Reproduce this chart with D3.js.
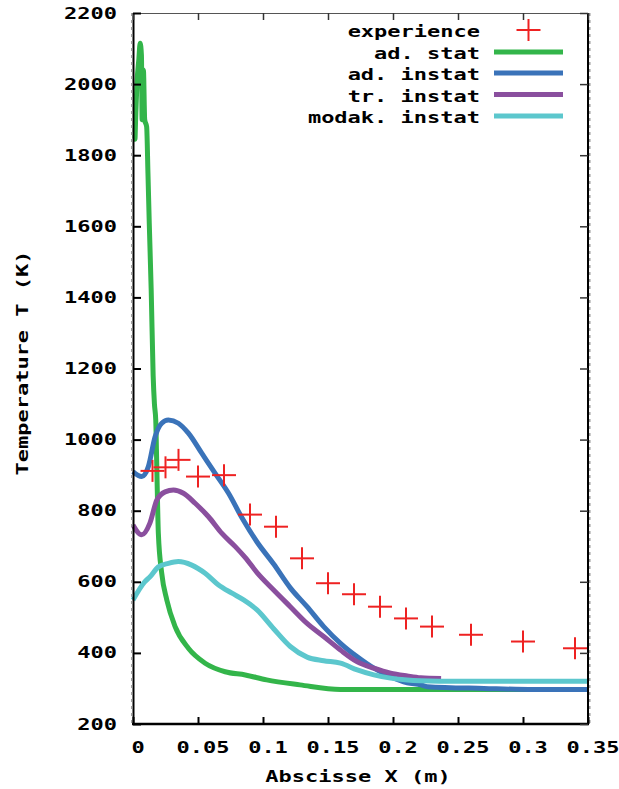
<!DOCTYPE html>
<html>
<head>
<meta charset="utf-8">
<script src="https://cdn.jsdelivr.net/npm/d3@7"></script>
<style>
  html, body { margin: 0; padding: 0; background: #fff; }
  svg { display: block; }
  text { font-family: "DejaVu Sans Mono", "Liberation Mono", monospace; font-weight: bold; fill: #000; }
</style>
</head>
<body>
<svg id="chart" width="619" height="789"></svg>
<script>
// Measured temperatures along the abscissa (experience)
const expX = [0.015, 0.025, 0.035, 0.05, 0.07, 0.09, 0.11, 0.13, 0.15, 0.17, 0.19, 0.21, 0.23, 0.26, 0.30, 0.34];
const expT = [912, 922, 943, 896, 900, 789, 755, 666, 596, 565, 530, 497, 474, 451, 432, 413];

// ad. stat
const adStatX = [0, 0.0015, 0.002, 0.003, 0.0045, 0.0055, 0.0065, 0.007, 0.008, 0.009, 0.0105, 0.0115, 0.0125, 0.014, 0.0155, 0.0165, 0.0175, 0.0183, 0.0195, 0.0221, 0.026, 0.0324, 0.0426, 0.0555, 0.0709, 0.0864, 0.1028, 0.1285, 0.1596, 0.35];
const adStatT = [1845, 1845, 1900, 2000, 2070, 2115, 2080, 1900, 2040, 1900, 1880, 1750, 1610, 1420, 1180, 1100, 1055, 924, 736, 624, 549, 474, 413, 371, 347, 338, 324, 310, 297, 297];

// ad. instat
const adInstX = [0, 0.0067, 0.0118, 0.017, 0.0221, 0.0272, 0.0349, 0.0426, 0.053, 0.0632, 0.0735, 0.0838, 0.0954, 0.1082, 0.121, 0.1339, 0.1467, 0.1596, 0.1725, 0.1853, 0.1981, 0.211, 0.2213, 0.2264, 0.27, 0.308, 0.35];
const adInstT = [910, 896, 924, 1008, 1046, 1055, 1046, 1018, 961, 905, 849, 780, 712, 650, 583, 530, 474, 427, 389, 357, 333, 316, 310, 305, 300, 297, 297];

// tr. instat
const trInstX = [0, 0.0067, 0.013, 0.0183, 0.0247, 0.0311, 0.0388, 0.0478, 0.0581, 0.0684, 0.0787, 0.0864, 0.0954, 0.1082, 0.121, 0.1339, 0.1467, 0.1596, 0.1725, 0.1853, 0.1981, 0.211, 0.2213, 0.237];
const trInstT = [760, 732, 765, 830, 853, 858, 849, 821, 783, 736, 699, 668, 626, 577, 530, 483, 446, 408, 375, 357, 343, 335, 330, 328];

// modak. instat
const modakX = [0, 0.009, 0.0131, 0.0195, 0.0272, 0.0349, 0.0452, 0.0555, 0.0658, 0.0761, 0.0851, 0.0954, 0.1082, 0.121, 0.1339, 0.1467, 0.1596, 0.1725, 0.1853, 0.1981, 0.211, 0.2213, 0.25, 0.35];
const modakT = [549, 600, 614, 642, 652, 657, 647, 624, 591, 568, 549, 521, 468, 418, 388, 378, 371, 352, 338, 329, 324, 322, 320, 320];

const xTicks = [0, 0.05, 0.1, 0.15, 0.2, 0.25, 0.3, 0.35];
const xTickLabels = ["0", "0.05", "0.1", "0.15", "0.2", "0.25", "0.3", "0.35"];
const yTicks = [200, 400, 600, 800, 1000, 1200, 1400, 1600, 1800, 2000, 2200];

const seriesNames = ["experience", "ad. stat", "ad. instat", "tr. instat", "modak. instat"];
const seriesColors = ["#ee2222", "#33b54a", "#3a73b9", "#8a4f9e", "#5cc7cd"];

const svg = d3.select("#chart");
const plotL = 133, plotR = 588, plotT = 13, plotB = 724;
const x = d3.scaleLinear().domain([0, 0.35]).range([plotL, plotR]);
const y = d3.scaleLinear().domain([200, 2200]).range([plotB, plotT]);

const FS = 15.5, SX = 1.42;   // wide, bold terminal-style lettering

function label(g, px, py, str, anchor, rot) {
  return g.append("text")
    .attr("transform", `translate(${px},${py})` + (rot ? ` rotate(${rot})` : "") + ` scale(${SX},1)`)
    .attr("text-anchor", anchor)
    .style("font-size", FS + "px")
    .text(str);
}

// curves
const curves = [
  [adStatX, adStatT, seriesColors[1]],
  [adInstX, adInstT, seriesColors[2]],
  [trInstX, trInstT, seriesColors[3]],
  [modakX, modakT, seriesColors[4]]
];
const line = d3.line().x(d => x(d[0])).y(d => y(d[1])).curve(d3.curveMonotoneX);
curves.forEach(([xs, ts, c]) => {
  svg.append("path")
    .datum(xs.map((v, i) => [v, ts[i]]))
    .attr("d", line)
    .attr("fill", "none")
    .attr("stroke", c)
    .attr("stroke-width", 5)
    .attr("stroke-linejoin", "round");
});

// experimental crosses
function cross(g, cx, cy) {
  g.append("line").attr("x1", cx - 12).attr("x2", cx + 12).attr("y1", cy).attr("y2", cy)
    .attr("stroke", seriesColors[0]).attr("stroke-width", 2);
  g.append("line").attr("x1", cx).attr("x2", cx).attr("y1", cy - 11).attr("y2", cy + 11)
    .attr("stroke", seriesColors[0]).attr("stroke-width", 2);
}
const expG = svg.append("g");
expX.forEach((v, i) => cross(expG, x(v), y(expT[i])));

// frame
const frame = svg.append("g");
frame.append("line").attr("x1", plotL).attr("x2", plotR).attr("y1", plotT + 0.5).attr("y2", plotT + 0.5)
  .attr("stroke", "#555").attr("stroke-width", 1.2);
frame.append("line").attr("x1", plotL - 1).attr("x2", plotR + 1).attr("y1", plotB).attr("y2", plotB)
  .attr("stroke", "#000").attr("stroke-width", 2.4);
frame.append("line").attr("x1", plotL + 0.5).attr("x2", plotL + 0.5).attr("y1", plotT).attr("y2", plotB)
  .attr("stroke", "#000").attr("stroke-width", 2);
frame.append("line").attr("x1", plotR).attr("x2", plotR).attr("y1", plotT).attr("y2", plotB)
  .attr("stroke", "#000").attr("stroke-width", 2);
[plotL - 1.2, plotR + 1.8].forEach(px => {
  frame.append("line").attr("x1", px).attr("x2", px).attr("y1", plotT).attr("y2", plotB)
    .attr("stroke", "#999").attr("stroke-width", 1.4).attr("stroke-dasharray", "3,4");
});

// ticks
const xAxisB = d3.axisBottom(x).tickValues(xTicks).tickSize(-7).tickFormat("");
const xAxisT = d3.axisTop(x).tickValues(xTicks).tickSize(-7).tickFormat("");
const yAxisL = d3.axisLeft(y).tickValues(yTicks).tickSize(-8).tickFormat("");
const yAxisR = d3.axisRight(y).tickValues(yTicks).tickSize(-8).tickFormat("");
function styleAxis(g, w, col) {
  g.select(".domain").remove();
  g.selectAll(".tick line").attr("stroke", col).attr("stroke-width", w);
}
styleAxis(svg.append("g").attr("transform", `translate(0,${plotB})`).call(xAxisB), 2, "#000");
styleAxis(svg.append("g").attr("transform", `translate(0,${plotT})`).call(xAxisT), 1.5, "#333");
styleAxis(svg.append("g").attr("transform", `translate(${plotL},0)`).call(yAxisL), 2, "#000");
styleAxis(svg.append("g").attr("transform", `translate(${plotR},0)`).call(yAxisR), 1.5, "#333");

// tick labels
const labels = svg.append("g");
xTicks.forEach((v, i) => label(labels, x(v) + 5, 753, xTickLabels[i], "middle"));
yTicks.forEach(v => label(labels, 117, y(v) + 5.5, String(v), "end"));

// axis titles
label(svg, 358, 782, "Abscisse X (m)", "middle");
label(svg, 28, 363, "Temperature T (K)", "middle", -90);

// key
const key = svg.append("g");
const keyBase = [37, 59, 80, 101.5, 123];
seriesNames.forEach((n, i) => {
  label(key, 480, keyBase[i], n, "end");
  const cy = keyBase[i] - 7;
  if (i === 0) {
    cross(key, 528.5, 30);
  } else {
    key.append("line").attr("x1", 494).attr("x2", 563).attr("y1", cy).attr("y2", cy)
      .attr("stroke", seriesColors[i]).attr("stroke-width", 5);
  }
});
</script>
</body>
</html>
